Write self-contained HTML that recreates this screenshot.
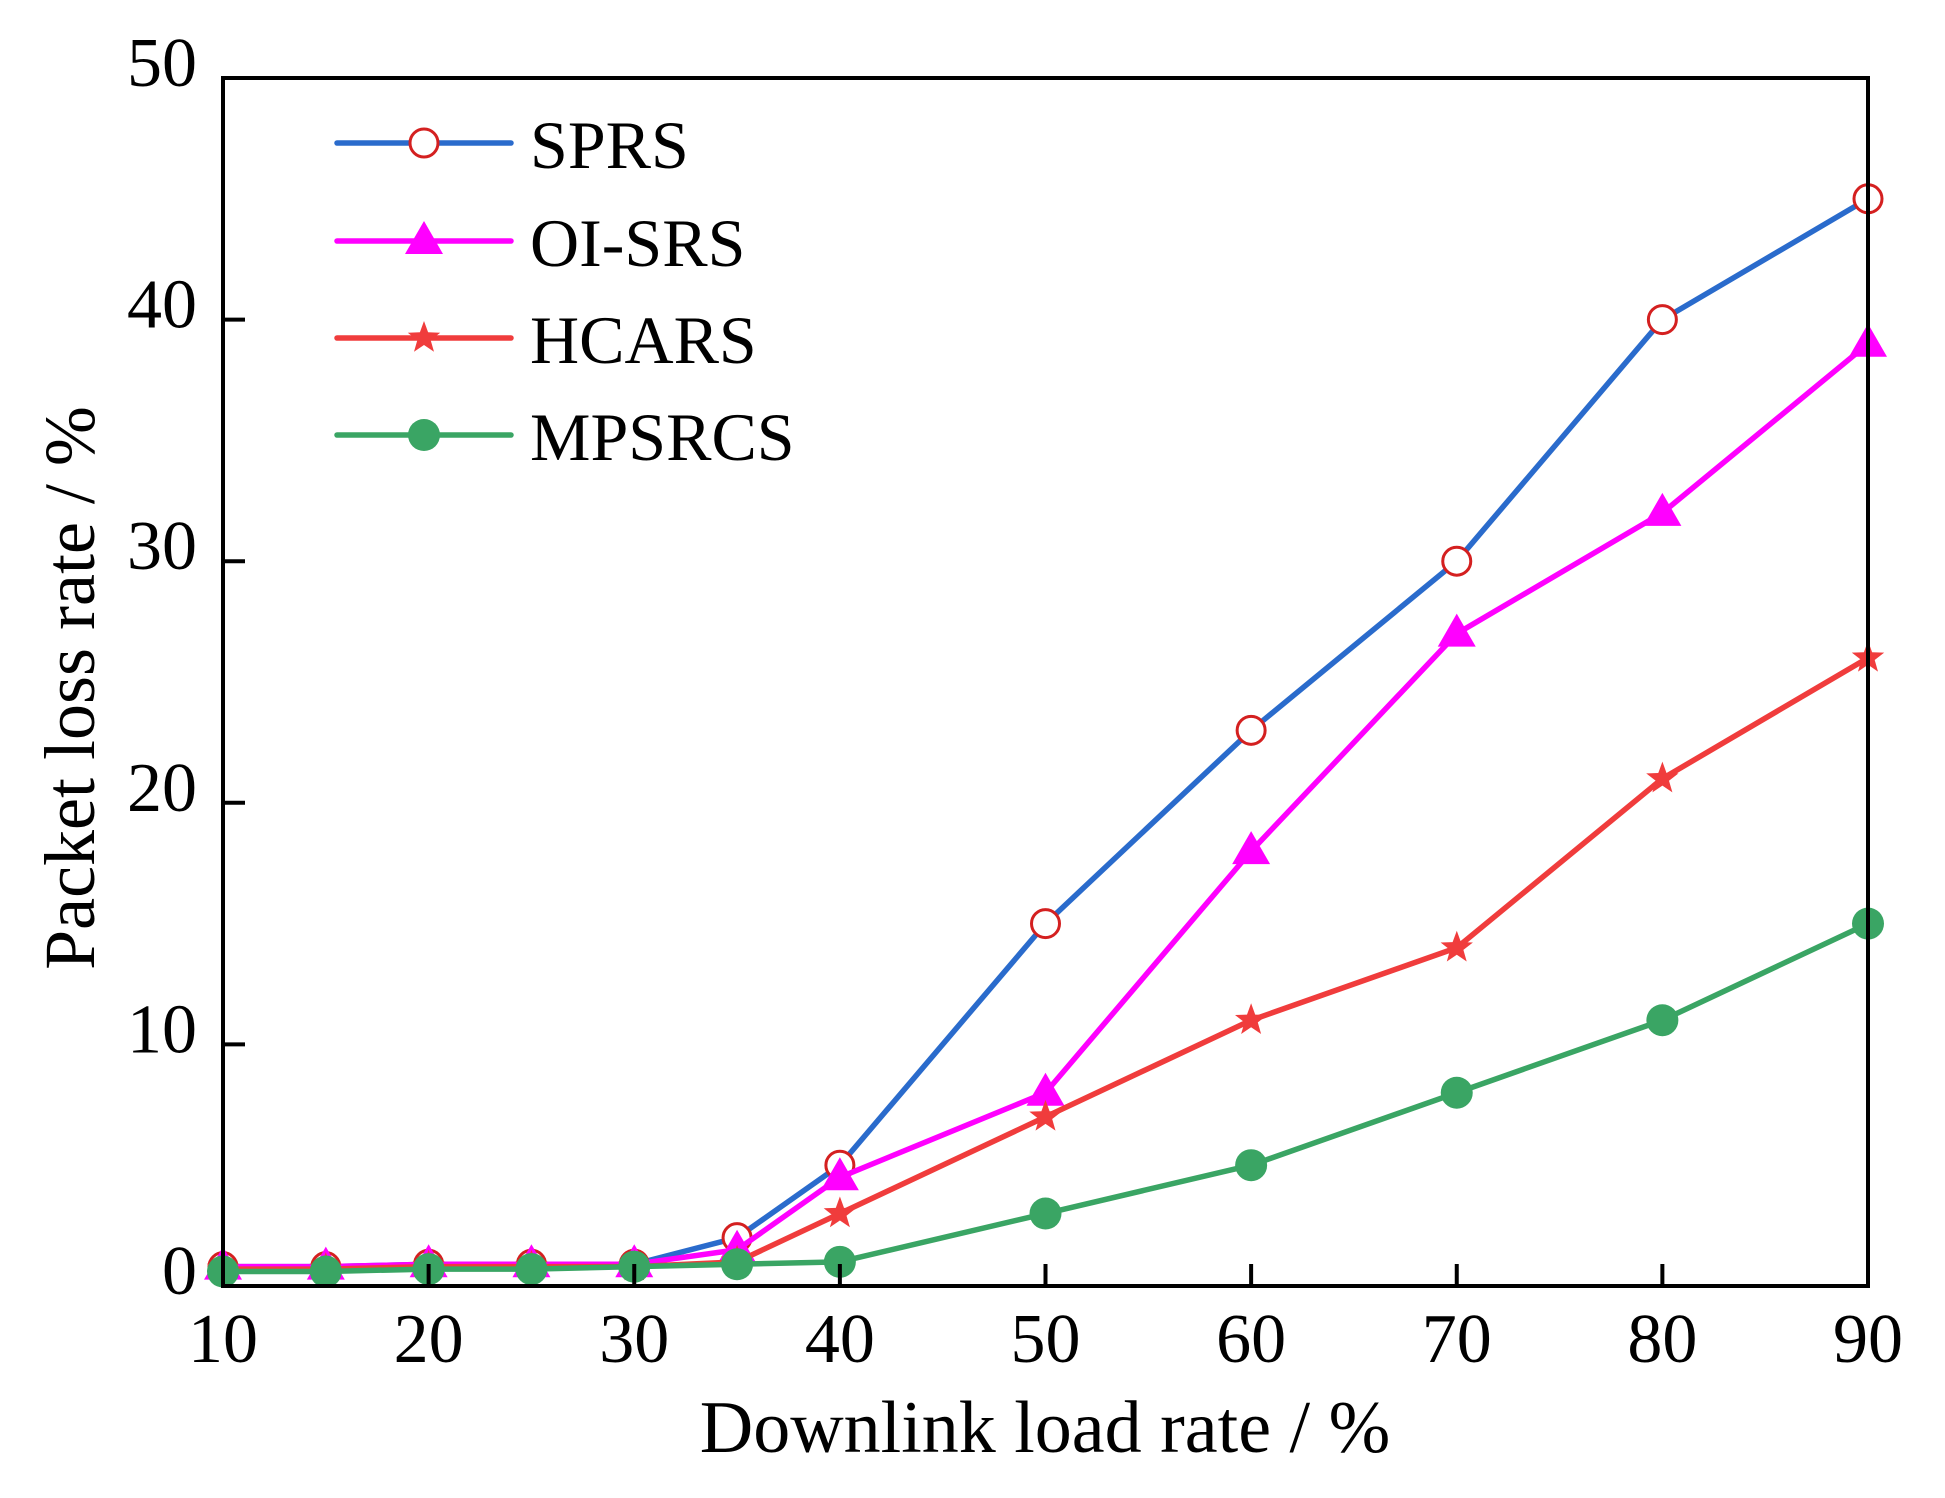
<!DOCTYPE html>
<html><head><meta charset="utf-8"><style>
body{margin:0;background:#fff}
svg{display:block}
text{font-family:"Liberation Serif",serif;fill:#000}
</style></head><body>
<svg id="chart" width="1945" height="1498" viewBox="0 0 1945 1498" xmlns="http://www.w3.org/2000/svg">
<g id="series"></g>
<rect x="223" y="78" width="1645" height="1208" fill="none" stroke="#000" stroke-width="4"/>
<g id="axes"></g>
<text x="1045" y="1452" font-size="74" text-anchor="middle">Downlink load rate / %</text>
<text transform="translate(94,688) rotate(-90)" font-size="72" text-anchor="middle">Packet loss rate / %</text>
<g id="legend"></g>
</svg>
<script>
const xValues=[10,15,20,25,30,35,40,50,60,70,80,90];
const sprs=[0.8,0.8,0.9,0.9,0.9,2,5,15,23,30,40,45];
const oisrs=[0.8,0.8,0.9,0.9,0.9,1.5,4.5,8,18,27,32,39];
const hcars=[0.7,0.7,0.8,0.8,0.8,1,3,7,11,14,21,26];
const mpsrcs=[0.6,0.6,0.7,0.7,0.8,0.9,1,3,5,8,11,15];
const seriesNames=["SPRS","OI-SRS","HCARS","MPSRCS"];
const xTicks=[10,20,30,40,50,60,70,80,90];
const yTicks=[0,10,20,30,40,50];

const NS="http://www.w3.org/2000/svg";
const L=223,R=1868,T=78,B=1286;
const xs=v=>L+(v-10)/80*(R-L);
const ys=v=>B-v/50*(B-T);
function mk(tag,attrs,parent){const e=document.createElementNS(NS,tag);for(const k in attrs)e.setAttribute(k,attrs[k]);parent.appendChild(e);return e;}
const styles=[
 {line:"#2a6bcc",marker:"circle-open"},
 {line:"#ff00ff",marker:"triangle"},
 {line:"#f03c3c",marker:"star"},
 {line:"#3aa564",marker:"circle"}];
const colorsM=["#d42020","#ff00ff","#f03c3c","#3aa564"];
function marker(type,cx,cy,color,g){
 let e;
 if(type==="circle-open"){e=mk("circle",{cx:cx,cy:cy,r:14,fill:"#fff",stroke:color,"stroke-width":3},g);}
 else if(type==="circle"){e=mk("circle",{cx:cx,cy:cy,r:16,fill:color},g);}
 else if(type==="triangle"){e=mk("polygon",{points:`${cx},${cy-20} ${cx+19},${cy+13} ${cx-19},${cy+13}`,fill:color},g);}
 else{let p=[];for(let i=0;i<10;i++){const r=i%2?7:17;const a=-Math.PI/2+i*Math.PI/5;p.push((cx+r*Math.cos(a)).toFixed(1)+","+(cy+r*Math.sin(a)).toFixed(1));}
  e=mk("polygon",{points:p.join(" "),fill:color},g);}
 return e;
}
const sg=document.getElementById("series");
const data=[sprs,oisrs,hcars,mpsrcs];
data.forEach((arr,si)=>{
 const g=mk("g",{},sg);
 
 
 const pl=mk("polyline",{points:arr.map((v,i)=>xs(xValues[i])+","+ys(v)).join(" "),fill:"none",stroke:styles[si].line,"stroke-width":5.5,"stroke-linejoin":"round"},g);
 
 
 arr.forEach((v,i)=>{
  const m=marker(styles[si].marker,xs(xValues[i]),ys(v),colorsM[si],g);
  
  
 });
});
const ag=document.getElementById("axes");
xTicks.forEach(t=>{
 const l=mk("line",{x1:xs(t),x2:xs(t),y1:B,y2:B-22,stroke:"#000","stroke-width":4},ag);
 
 
 const tx=mk("text",{x:xs(t),y:B+76,"font-size":70,"text-anchor":"middle"},ag);
 tx.textContent=t;
 
 
});
yTicks.forEach(t=>{
 const l=mk("line",{x1:L,x2:L+22,y1:ys(t),y2:ys(t),stroke:"#000","stroke-width":4},ag);
 
 
 const tx=mk("text",{x:L-26,y:ys(t)+8,"font-size":70,"text-anchor":"end"},ag);
 tx.textContent=t;
 
 
});
const lg=document.getElementById("legend");
const rows=[143,241,338,435];
seriesNames.forEach((n,i)=>{
 const g=mk("g",{},lg);
 
 
 mk("line",{x1:337,x2:511,y1:rows[i],y2:rows[i],stroke:styles[i].line,"stroke-width":5.5,"stroke-linecap":"round"},g);
 marker(styles[i].marker,424,rows[i],colorsM[i],g);
 const tx=mk("text",{x:530,y:rows[i]+25,"font-size":68},g);
 tx.textContent=n;
});
</script>
</body></html>
